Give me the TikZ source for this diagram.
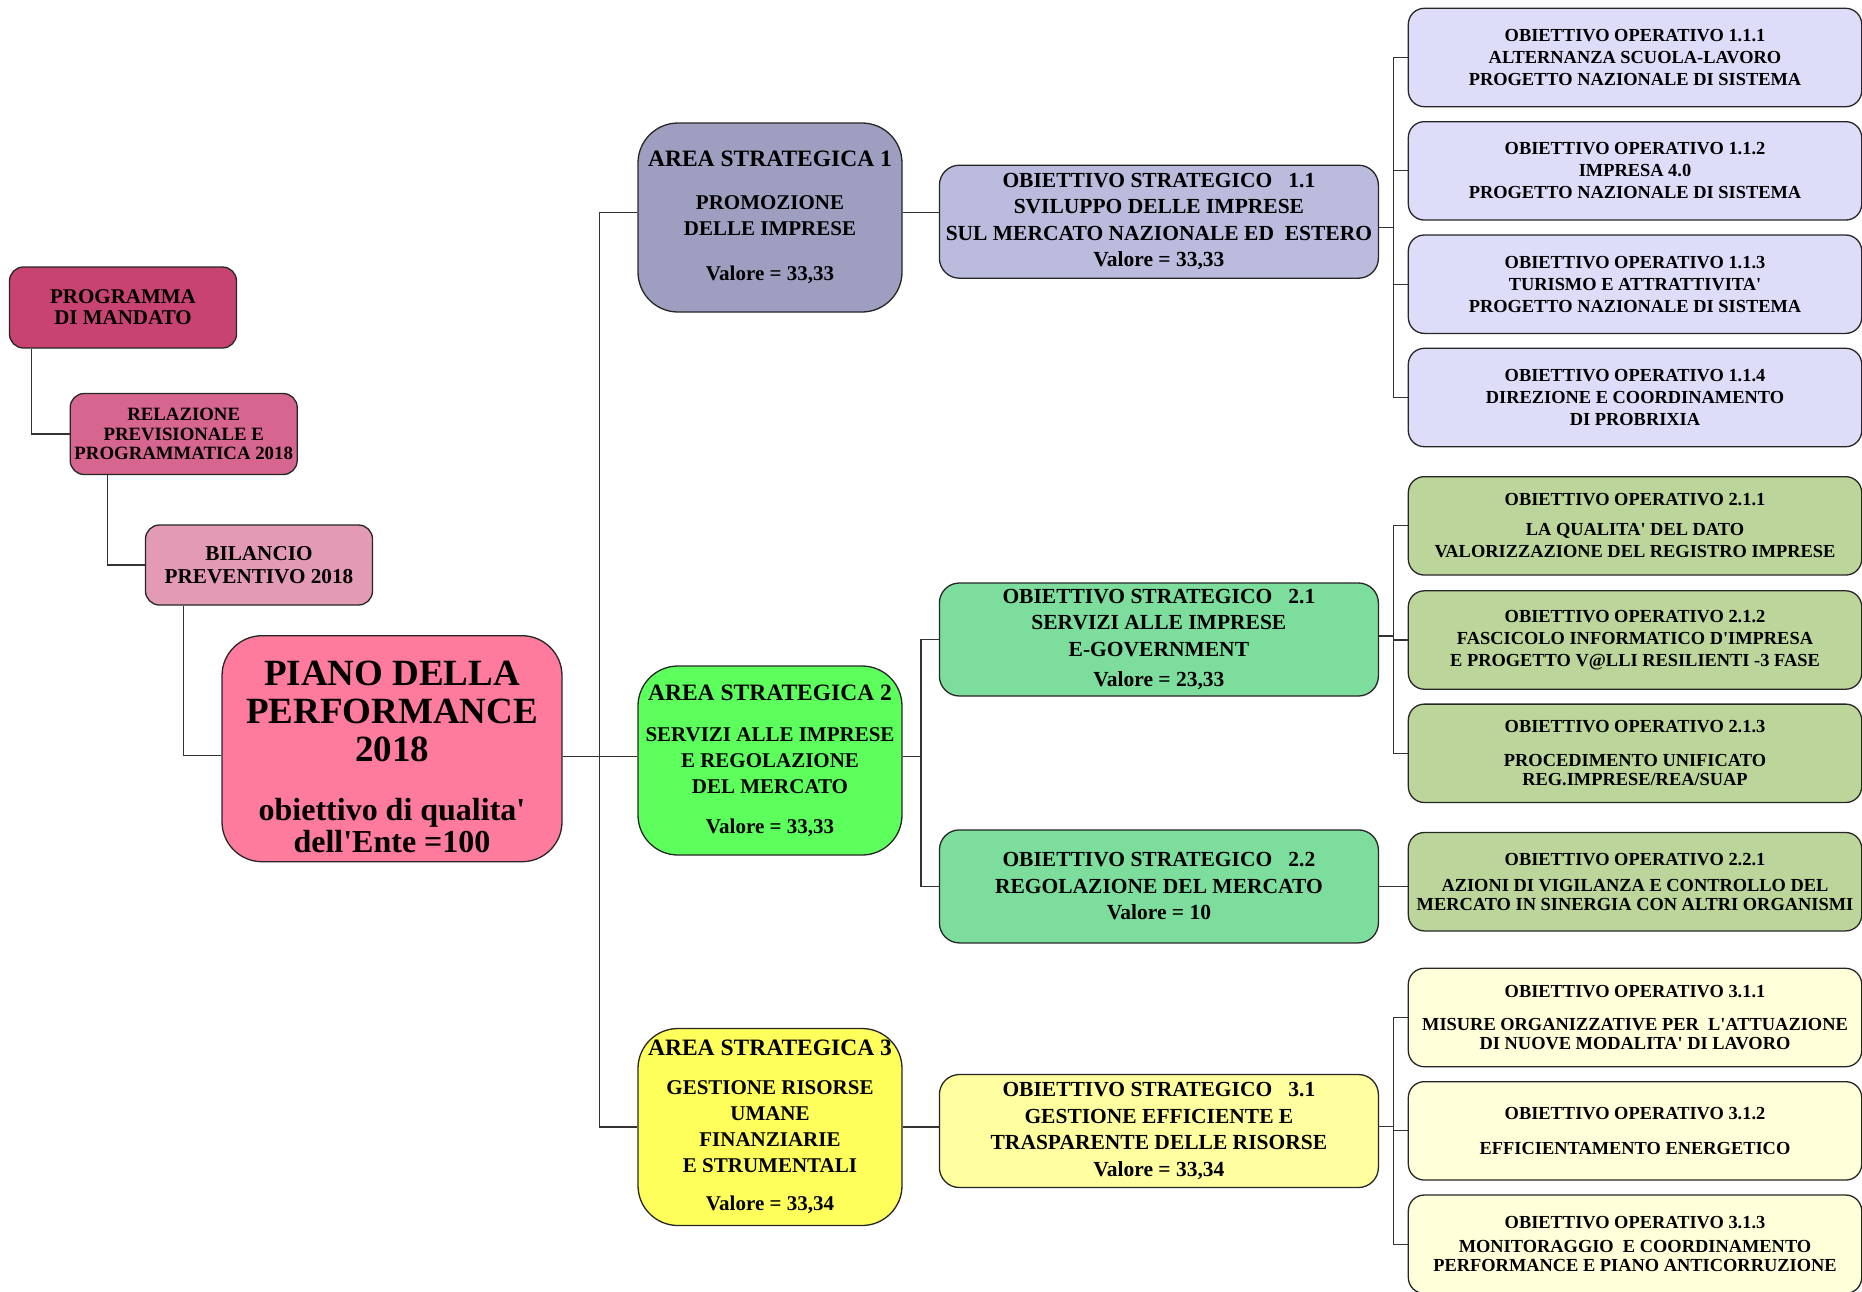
\documentclass[tikz,border=0pt]{standalone}
\usepackage{fontspec}
\setmainfont{Liberation Serif}
\usetikzlibrary{calc}
\definecolor{cProg}{HTML}{C94372}
\definecolor{cRel}{HTML}{D6658F}
\definecolor{cBil}{HTML}{E29AB5}
\definecolor{cPiano}{HTML}{FF7B9D}
\definecolor{cAreaA}{HTML}{9E9EC0}
\definecolor{cStratA}{HTML}{BBBBDD}
\definecolor{cOpA}{HTML}{DDDDFA}
\definecolor{cAreaB}{HTML}{5DFF5D}
\definecolor{cStratB}{HTML}{7CDD9C}
\definecolor{cOpB}{HTML}{BCD59A}
\definecolor{cAreaC}{HTML}{FFFF5B}
\definecolor{cStratC}{HTML}{FFFF9F}
\definecolor{cOpC}{HTML}{FFFFDA}
\definecolor{cLine}{HTML}{333333}
\tikzset{
  box/.style={draw=black!85, line width=1.3pt, align=center, inner sep=0pt, font=\bfseries},
  leftbox/.style={box, rounded corners=14pt, minimum width=227pt, minimum height=81pt},
  areabox/.style={box, rounded corners=40pt, minimum width=264pt, minimum height=189pt, font=\bfseries\fontsize{21}{26}\selectfont},
  stratbox/.style={box, rounded corners=20pt, minimum width=439pt, minimum height=113pt, font=\bfseries\fontsize{21.5}{26.5}\selectfont},
  opbox/.style={box, rounded corners=16pt, minimum width=453.4pt, minimum height=98.4pt, font=\bfseries\fontsize{18.4}{22}\selectfont},
  conn/.style={draw=cLine, line width=1.2pt}
}
\newcommand{\ahead}[1]{{\fontsize{23.5}{26}\selectfont #1}}
\newcommand{\apos}{\textquotesingle}
\begin{document}
\begin{tikzpicture}[x=1pt,y=-1pt]
\useasboundingbox (0,0) rectangle (1862,1291);

% left chain
\node[leftbox, fill=cProg, font=\bfseries\fontsize{21}{21}\selectfont] (prog) at (123,307.5) {PROGRAMMA\\DI MANDATO};
\node[leftbox, fill=cRel, font=\bfseries\fontsize{18.8}{19.5}\selectfont] (rel) at (183.7,434) {RELAZIONE\\PREVISIONALE E\\PROGRAMMATICA 2018};
\node[leftbox, fill=cBil, minimum height=80pt, font=\bfseries\fontsize{21.2}{22.5}\selectfont] (bil) at (259,565) {BILANCIO\\PREVENTIVO 2018};
\node[box, fill=cPiano, rounded corners=40pt, minimum width=340pt, minimum height=226pt] (piano) at (392,748.7) {};
\node[align=center, inner sep=0pt, font=\bfseries\fontsize{37}{38}\selectfont] (pianotxt) at (392,756.5) {PIANO DELLA\\PERFORMANCE\\2018\\[21pt]{\fontsize{32}{32}\selectfont obiettivo di qualita\apos}\\[-6pt]{\fontsize{32}{32}\selectfont dell\apos Ente =100}};

% areas
\node[areabox, fill=cAreaA] (a1) at (770,217.5) {\ahead{AREA STRATEGICA 1}\\[17pt]PROMOZIONE\\DELLE IMPRESE\\[19pt]Valore = 33,33};
\node[areabox, fill=cAreaB] (a2) at (770,760.5) {\ahead{AREA STRATEGICA 2}\\[15pt]SERVIZI ALLE IMPRESE\\E REGOLAZIONE\\DEL MERCATO\\[14pt]Valore = 33,33};
\node[areabox, fill=cAreaC, minimum height=197pt] (a3) at (770,1127) {\ahead{AREA STRATEGICA 3}\\[13pt]GESTIONE RISORSE\\UMANE\\FINANZIARIE\\E STRUMENTALI\\[12pt]Valore = 33,34};

% strategic objectives
\node[stratbox, fill=cStratA] (s11) at (1158.9,221.7) {OBIETTIVO STRATEGICO\ \ \ 1.1\\SVILUPPO DELLE IMPRESE\\SUL MERCATO NAZIONALE ED\ \ ESTERO\\Valore = 33,33};
\node[stratbox, fill=cStratB] (s21) at (1158.9,639.5) {OBIETTIVO STRATEGICO\ \ \ 2.1\\SERVIZI ALLE IMPRESE\\E-GOVERNMENT\\[3.5pt]Valore = 23,33};
\node[stratbox, fill=cStratB] (s22) at (1158.9,886.4) {OBIETTIVO STRATEGICO\ \ \ 2.2\\REGOLAZIONE DEL MERCATO\\Valore = 10};
\node[stratbox, fill=cStratC] (s31) at (1158.9,1131) {OBIETTIVO STRATEGICO\ \ \ 3.1\\GESTIONE EFFICIENTE E\\TRASPARENTE DELLE RISORSE\\Valore = 33,34};

% operational objectives
\node[opbox, fill=cOpA] (o111) at (1635,57.5) {OBIETTIVO OPERATIVO 1.1.1\\ALTERNANZA SCUOLA-LAVORO\\PROGETTO NAZIONALE DI SISTEMA};
\node[opbox, fill=cOpA] (o112) at (1635,170.85) {OBIETTIVO OPERATIVO 1.1.2\\IMPRESA 4.0\\PROGETTO NAZIONALE DI SISTEMA};
\node[opbox, fill=cOpA] (o113) at (1635,284.2) {OBIETTIVO OPERATIVO 1.1.3\\TURISMO E ATTRATTIVITA\apos\\PROGETTO NAZIONALE DI SISTEMA};
\node[opbox, fill=cOpA] (o114) at (1635,397.5) {OBIETTIVO OPERATIVO 1.1.4\\DIREZIONE E COORDINAMENTO\\DI PROBRIXIA};
\node[opbox, fill=cOpB] (o211) at (1635,525.85) {OBIETTIVO OPERATIVO 2.1.1\\[8pt]LA QUALITA\apos{} DEL DATO\\VALORIZZAZIONE DEL REGISTRO IMPRESE};
\node[opbox, fill=cOpB] (o212) at (1635,640) {OBIETTIVO OPERATIVO 2.1.2\\FASCICOLO INFORMATICO D\apos IMPRESA\\E PROGETTO V@LLI RESILIENTI -3 FASE};
\node[opbox, fill=cOpB] (o213) at (1635,753.3) {OBIETTIVO OPERATIVO 2.1.3\\[12pt]PROCEDIMENTO UNIFICATO\\[-2.7pt]REG.IMPRESE/REA/SUAP};
\node[opbox, fill=cOpB] (o221) at (1635,881.7) {OBIETTIVO OPERATIVO 2.2.1\\[4.7pt]AZIONI DI VIGILANZA E CONTROLLO DEL\\[-3.7pt]MERCATO IN SINERGIA CON ALTRI ORGANISMI};
\node[opbox, fill=cOpC] (o311) at (1635,1017.5) {OBIETTIVO OPERATIVO 3.1.1\\[11pt]MISURE ORGANIZZATIVE PER\ \ L\apos ATTUAZIONE\\[-3.7pt]DI NUOVE MODALITA\apos{} DI LAVORO};
\node[opbox, fill=cOpC] (o312) at (1635,1130.85) {OBIETTIVO OPERATIVO 3.1.2\\[12.4pt]EFFICIENTAMENTO ENERGETICO};
\node[opbox, fill=cOpC] (o313) at (1635,1244.2) {OBIETTIVO OPERATIVO 3.1.3\\[2pt]MONITORAGGIO\ \ E COORDINAMENTO\\[-3.3pt]PERFORMANCE E PIANO ANTICORRUZIONE};

% left connectors
\draw[conn] ($(prog.south west)+(23,0)$) |- (rel.west);
\draw[conn] ($(rel.south west)+(38.3,0)$) |- (bil.west);
\coordinate (pl) at ($(piano.west)+(0,7)$);
\draw[conn] ($(bil.south west)+(38.3,0)$) |- (pl);

% main trunk
\coordinate (j0) at (599.5,756.7);
\coordinate (a1l) at ($(a1.west)+(0,-5)$);
\draw[conn] (piano.east |- j0) -- (j0);
\draw[conn] (a1l) -| (j0) |- (a3.west);
\draw[conn] (j0) -- (j0 -| a2.west);

% area -> strategic
\coordinate (a1r) at ($(a1.east)+(0,-5)$);
\draw[conn] (a1r) -- (a1r -| s11.west);
\coordinate (j2) at (921,756.7);
\draw[conn] (a2.east |- j2) -- (j2);
\draw[conn] (s21.west) -| (j2) |- (s22.west);
\draw[conn] (a3.east) -- (a3.east -| s31.west);

% strategic -> operational
\coordinate (j11) at (1393.3,227.7);
\draw[conn] (s11.east |- j11) -- (j11);
\draw[conn] (o111.west) -| (j11) |- (o114.west);
\draw[conn] (j11 |- o112.west) -- (o112.west);
\draw[conn] (j11 |- o113.west) -- (o113.west);

\coordinate (j21) at (1393.3,636);
\draw[conn] (s21.east |- j21) -- (j21);
\draw[conn] (o211.west) -| (j21) |- (o213.west);
\draw[conn] (j21 |- o212.west) -- (o212.west);
\draw[conn] (s22.east) -- (s22.east -| o221.west);

\coordinate (j31) at (1393.3,1126.7);
\draw[conn] (s31.east |- j31) -- (j31);
\draw[conn] (o311.west) -| (j31) |- (o313.west);
\draw[conn] (j31 |- o312.west) -- (o312.west);
\end{tikzpicture}
\end{document}
